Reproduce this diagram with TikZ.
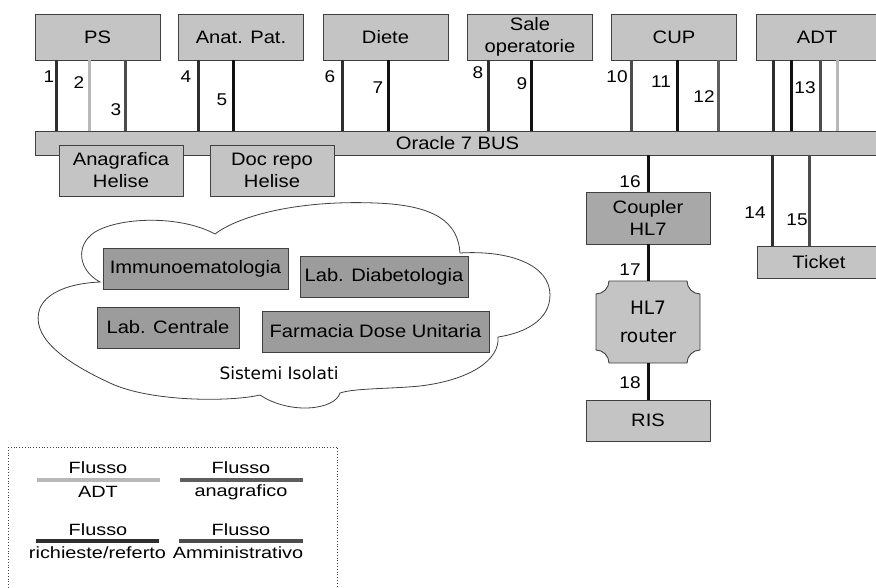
\documentclass[tikz,border=0pt]{standalone}
\usepackage{fontspec}
\setmainfont[FakeStretch=1.12]{Liberation Sans}
\newfontfamily\legfont[FakeStretch=1.22]{Liberation Sans}
\newfontfamily\comicfont{DejaVu Sans}
\usetikzlibrary{calc}
\definecolor{boxfill}{HTML}{C4C4C4}
\definecolor{darkfill}{HTML}{9C9C9C}
\definecolor{cplfill}{HTML}{A8A8A8}
\definecolor{border}{HTML}{404040}
\definecolor{cadt}{HTML}{B8B8B8}
\definecolor{cana}{HTML}{5E5E5E}
\definecolor{cric}{HTML}{2E2E2E}
\definecolor{camm}{HTML}{4C4C4C}
\definecolor{cblk}{HTML}{111111}
\tikzset{
  box/.style={draw=border, line width=0.9pt, fill=boxfill, inner sep=0pt, align=center,
    font=\fontsize{18}{22}\selectfont, text=black},
  dbox/.style={box, fill=darkfill},
  num/.style={inner sep=0pt, font=\fontsize{17}{17}\selectfont},
  flow/.style={line width=3pt},
  legline/.style={line width=4pt},
  leg/.style={inner sep=0pt, font=\legfont\fontsize{16.3}{16.3}\selectfont},
  cloudline/.style={draw=border, line width=0.8pt, fill=white},
}
\begin{document}
\begin{tikzpicture}[x=1pt,y=-1pt]
\clip (0,0) rectangle (876,587);
\fill[white] (0,0) rectangle (876,587);

% cloud
\path[cloudline] (100,282) .. controls (78,270) and (75,245) .. (95,232)
  .. controls (120,217) and (180,215) .. (215,234)
  .. controls (240,215) and (300,200) .. (375,203)
  .. controls (435,205) and (458,222) .. (460,253)
  .. controls (510,250) and (550,265) .. (550,295)
  .. controls (550,320) and (525,333) .. (498,337)
  .. controls (500,360) and (470,380) .. (420,386)
  .. controls (390,389) and (355,388) .. (340,393)
  .. controls (335,410) and (290,415) .. (260,395)
  .. controls (230,402) and (150,402) .. (110,383)
  .. controls (60,360) and (30,335) .. (40,308)
  .. controls (48,290) and (75,283) .. (100,282) -- cycle;
\node[dbox, minimum width=185pt, minimum height=41pt] (imm) at (195.5,268.5) {Immunoematologia};
\node[dbox, minimum width=168pt, minimum height=41pt] (dia) at (384,276.5) {Lab. Diabetologia};
\node[dbox, minimum width=142pt, minimum height=41pt] (cen) at (168,327.5) {Lab. Centrale};
\node[dbox, minimum width=227pt, minimum height=41pt] (far) at (375.5,331.5) {Farmacia Dose Unitaria};
\node[inner sep=0pt, font=\comicfont\fontsize{17}{17}\selectfont] (iso) at (279,373) {Sistemi Isolati};

% top boxes
\node[box, minimum width=125pt, minimum height=46pt] (ps) at (97.5,37) {PS};
\node[box, minimum width=125pt, minimum height=46pt] (anat) at (241,37) {Anat. Pat.};
\node[box, minimum width=125pt, minimum height=46pt] (diete) at (385.5,37) {Diete};
\node[box, minimum width=125pt, minimum height=46pt] (sale) at (530,37) {Sale\\operatorie};
\node[box, minimum width=125pt, minimum height=46pt] (cup) at (674,37) {CUP};
\node[box, minimum width=122pt, minimum height=46pt] (adt) at (817,37) {ADT};

% bus
\node[box, minimum width=845pt, minimum height=24pt] (bus) at (457.5,143) {Oracle 7 BUS};
\node[box, minimum width=124pt, minimum height=51pt] (ana) at (121,170.5) {Anagrafica\\Helise};
\node[box, minimum width=124pt, minimum height=51pt] (doc) at (272,170.5) {Doc repo\\Helise};

% right side
\node[box, fill=cplfill, minimum width=124pt, minimum height=52pt] (coupler) at (648,218) {Coupler\\HL7};
\coordinate (rc) at (648,322);
\begin{scope}[shift={(rc)}]
\filldraw[fill=boxfill, draw=border, line width=0.9pt]
  (-39,-41) -- (39,-41) .. controls (39,-34) and (45,-28) .. (52,-28)
  -- (52,28) .. controls (45,28) and (39,34) .. (39,41)
  -- (-39,41) .. controls (-39,34) and (-45,28) .. (-52,28)
  -- (-52,-28) .. controls (-45,-28) and (-39,-34) .. (-39,-41) -- cycle;
\end{scope}
\node[inner sep=0pt, minimum width=104pt, minimum height=82pt, align=center,
  font=\comicfont\fontsize{18.5}{28}\selectfont] (router) at (rc) {HL7\\router};
\node[box, minimum width=124pt, minimum height=41pt] (ris) at (648,420.5) {RIS};
\node[box, minimum width=124pt, minimum height=32pt] (ticket) at (819,262) {Ticket};

% connectors top boxes -> bus
\draw[flow, cric] ([xshift=22pt]ps.south west) coordinate (c1) -- (c1 |- bus.north);
\draw[flow, cadt] ([xshift=55pt]ps.south west) coordinate (c2) -- (c2 |- bus.north);
\draw[flow, camm] ([xshift=91pt]ps.south west) coordinate (c3) -- (c3 |- bus.north);
\draw[flow, cric] ([xshift=20.5pt]anat.south west) coordinate (c4) -- (c4 |- bus.north);
\draw[flow, cblk] ([xshift=55.5pt]anat.south west) coordinate (c5) -- (c5 |- bus.north);
\draw[flow, cric] ([xshift=20pt]diete.south west) coordinate (c6) -- (c6 |- bus.north);
\draw[flow, cblk] ([xshift=66pt]diete.south west) coordinate (c7) -- (c7 |- bus.north);
\draw[flow, cric] ([xshift=21.5pt]sale.south west) coordinate (c8) -- (c8 |- bus.north);
\draw[flow, cblk] ([xshift=64.5pt]sale.south west) coordinate (c9) -- (c9 |- bus.north);
\draw[flow, camm] ([xshift=20.5pt]cup.south west) coordinate (c10) -- (c10 |- bus.north);
\draw[flow, cblk] ([xshift=66.5pt]cup.south west) coordinate (c11) -- (c11 |- bus.north);
\draw[flow, cana] ([xshift=107.5pt]cup.south west) coordinate (c12) -- (c12 |- bus.north);
\draw[flow, cric] ([xshift=18pt]adt.south west) coordinate (c13a) -- (c13a |- bus.north);
\draw[flow, cblk] ([xshift=36pt]adt.south west) coordinate (c13b) -- (c13b |- bus.north);
\draw[flow, camm] ([xshift=65pt]adt.south west) coordinate (c13c) -- (c13c |- bus.north);
\draw[flow, cadt] ([xshift=82pt]adt.south west) coordinate (c13d) -- (c13d |- bus.north);
% bus -> ticket
\draw[flow, cric] ([xshift=16pt]ticket.north west) coordinate (c14) -- (c14 |- bus.south);
\draw[flow, camm] ([xshift=53pt]ticket.north west) coordinate (c15) -- (c15 |- bus.south);
% HL7 chain
\draw[flow, cblk] (coupler.north) -- (coupler.north |- bus.south);
\draw[flow, cblk] (coupler.south) -- (router.north);
\draw[flow, cblk] (router.south) -- (ris.north);

% numbers
\node[num] (n1) at (49,77) {1};
\node[num] (n2) at (79,83) {2};
\node[num] (n3) at (116,110) {3};
\node[num] (n4) at (186,77) {4};
\node[num] (n5) at (222,100) {5};
\node[num] (n6) at (330,77) {6};
\node[num] (n7) at (378,88) {7};
\node[num] (n8) at (478,73) {8};
\node[num] (n9) at (522,84) {9};
\node[num] (n10) at (617,77) {10};
\node[num] (n11) at (661,82) {11};
\node[num] (n12) at (704,97) {12};
\node[num] (n13) at (805,88) {13};
\node[num] (n14) at (755,213) {14};
\node[num] (n15) at (797,220) {15};
\node[num] (n16) at (630,182) {16};
\node[num] (n17) at (630,270) {17};
\node[num] (n18) at (630,383) {18};

% legend
\draw[dotted, draw=border, line width=0.8pt] (8,447) rectangle (337,600);
\draw[legline, cadt] (37,480) -- (160,480);
\draw[legline, cana] (180,480) -- (303,480);
\draw[legline, cric] (36,541) -- (159,541);
\draw[legline, camm] (179,541) -- (303,541);
\node[leg] (l1a) at (98,468) {Flusso};
\node[leg] (l1b) at (98,492) {ADT};
\node[leg] (l2a) at (241,468) {Flusso};
\node[leg] (l2b) at (241,492) {anagrafico};
\node[leg] (l3a) at (98,530) {Flusso};
\node[leg] (l3b) at (97.5,553) {richieste/referto};
\node[leg] (l4a) at (241,530) {Flusso};
\node[leg] (l4b) at (238,553) {Amministrativo};
\end{tikzpicture}
\end{document}
